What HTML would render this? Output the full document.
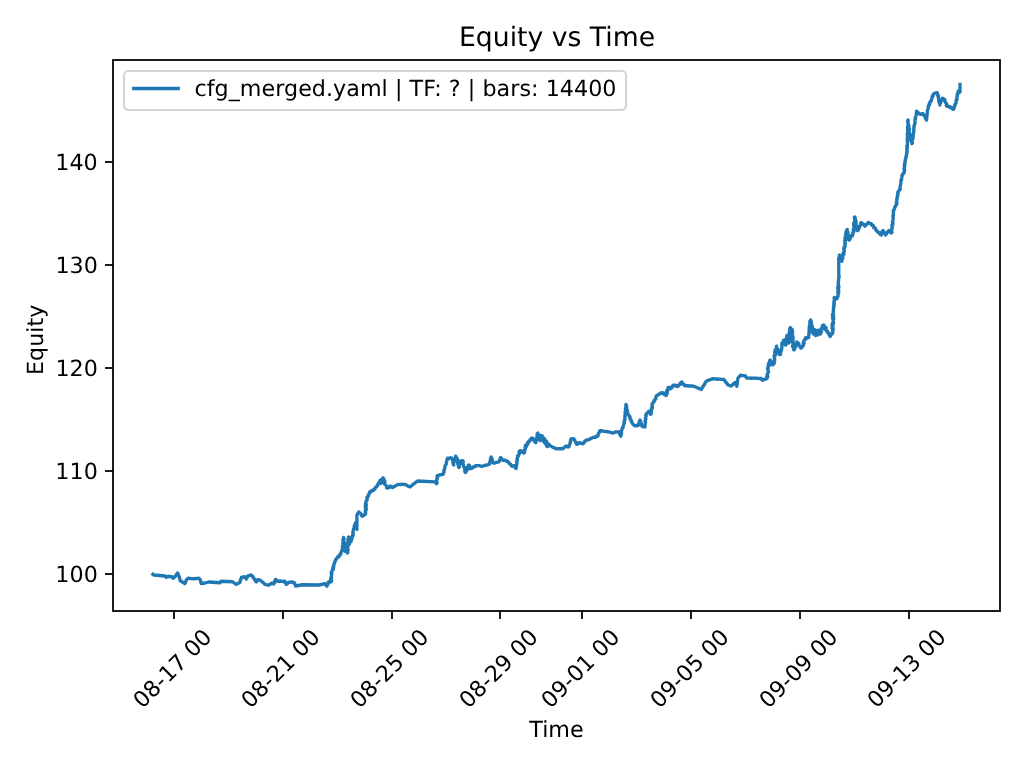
<!DOCTYPE html>
<html lang="en"><head><meta charset="utf-8"><title>Equity vs Time</title>
<style>
html,body{margin:0;padding:0;background:#fff;}
body{width:1024px;height:768px;overflow:hidden;}
svg{display:block;}
text{font-family:"DejaVu Sans","Liberation Sans",sans-serif;fill:#000;text-rendering:geometricPrecision;}
.t10{font-size:22.222px;}
.t12{font-size:26.667px;}
.ax{stroke:#000;stroke-width:1.778;fill:none;stroke-linecap:square;}
.tk{stroke:#000;stroke-width:1.778;fill:none;}
.ln{stroke:#1f77b4;stroke-width:3.333;fill:none;stroke-linejoin:round;stroke-linecap:square;}
</style></head><body>
<svg width="1024" height="768" viewBox="0 0 1024 768">
<rect x="0" y="0" width="1024" height="768" fill="#fff"/>

<g id="xticks">
<line class="tk" x1="174" y1="611" x2="174" y2="619"/>
<text id="xt0" class="t10" transform="translate(142.48 709.13) rotate(-45)">08-17 00</text>
<line class="tk" x1="283" y1="611" x2="283" y2="619"/>
<text id="xt1" class="t10" transform="translate(250.53 709.26) rotate(-45)">08-21 00</text>
<line class="tk" x1="392" y1="611" x2="392" y2="619"/>
<text id="xt2" class="t10" transform="translate(359.48 709.16) rotate(-45)">08-25 00</text>
<line class="tk" x1="500" y1="611" x2="500" y2="619"/>
<text id="xt3" class="t10" transform="translate(468.52 709.20) rotate(-45)">08-29 00</text>
<line class="tk" x1="582" y1="611" x2="582" y2="619"/>
<text id="xt4" class="t10" transform="translate(550.43 709.23) rotate(-45)">09-01 00</text>
<line class="tk" x1="691" y1="611" x2="691" y2="619"/>
<text id="xt5" class="t10" transform="translate(659.50 709.23) rotate(-45)">09-05 00</text>
<line class="tk" x1="800" y1="611" x2="800" y2="619"/>
<text id="xt6" class="t10" transform="translate(768.48 709.22) rotate(-45)">09-09 00</text>
<line class="tk" x1="909" y1="611" x2="909" y2="619"/>
<text id="xt7" class="t10" transform="translate(876.54 709.11) rotate(-45)">09-13 00</text>
</g>
<g id="yticks">
<line class="tk" x1="105" y1="574" x2="113" y2="574"/>
<text id="y100" class="t10" text-anchor="end" x="97.79" y="582.00">100</text>
<line class="tk" x1="105" y1="471" x2="113" y2="471"/>
<text id="y110" class="t10" text-anchor="end" x="97.79" y="479.00">110</text>
<line class="tk" x1="105" y1="368" x2="113" y2="368"/>
<text id="y120" class="t10" text-anchor="end" x="97.83" y="376.00">120</text>
<line class="tk" x1="105" y1="265" x2="113" y2="265"/>
<text id="y130" class="t10" text-anchor="end" x="97.81" y="273.00">130</text>
<line class="tk" x1="105" y1="162" x2="113" y2="162"/>
<text id="y140" class="t10" text-anchor="end" x="97.78" y="170.00">140</text>
</g>
<text id="time" class="t10" text-anchor="middle" x="556.52" y="737.00">Time</text>
<text id="equity" class="t10" text-anchor="middle" transform="translate(42.89 339.82) rotate(-90)">Equity</text>
<text id="title" class="t12" text-anchor="middle" x="557.04" y="46.00">Equity vs Time</text>
<clipPath id="c"><rect x="113" y="60" width="887" height="551"/></clipPath>
<polyline class="ln" clip-path="url(#c)" points="152.90,574.25 154.00,575.00 165.00,576.00 165.60,576.35 165.71,577.10 166.25,577.50 166.85,577.05 167.55,576.77 168.10,576.25 168.83,576.62 169.62,576.47 170.38,576.55 171.17,576.41 171.90,576.75 172.40,577.17 172.70,577.75 173.10,578.25 173.67,577.87 174.21,577.48 174.56,576.85 174.94,576.27 175.60,576.00 175.88,575.34 176.55,574.92 176.60,574.11 177.10,573.59 177.50,573.00 177.58,573.71 178.34,574.08 178.35,574.83 178.47,575.51 179.00,576.00 179.32,576.64 179.33,577.36 179.31,578.09 179.91,578.66 179.88,579.40 179.94,580.11 180.25,580.75 180.77,581.18 181.40,581.43 182.05,581.66 182.53,582.15 183.10,582.50 183.69,582.86 184.21,583.32 184.75,583.75 184.97,583.05 185.51,582.49 185.76,581.81 185.82,581.04 186.25,580.43 186.50,579.75 186.95,579.16 187.55,578.73 188.10,578.25 188.81,578.23 189.50,578.46 190.23,578.37 190.93,578.48 191.62,578.68 192.34,578.58 193.02,578.91 193.75,578.75 194.45,578.50 195.19,578.74 195.89,578.49 196.60,578.42 197.33,578.47 198.04,578.33 198.75,578.25 199.28,578.72 199.95,579.05 200.25,579.75 201.25,583.50 205.00,583.00 208.75,582.00 220.00,582.75 221.00,581.25 232.50,581.75 236.25,584.50 236.75,583.89 237.57,583.76 238.13,583.26 238.81,582.92 239.52,582.63 240.00,582.00 240.31,581.35 240.19,580.57 240.54,579.93 240.91,579.30 240.93,578.56 241.53,578.01 241.50,577.25 242.27,577.37 242.98,577.19 243.67,576.86 244.40,576.75 244.71,577.46 245.49,577.80 245.87,578.45 246.25,579.10 246.54,578.38 247.00,577.73 247.18,576.96 247.50,576.25 248.19,575.81 248.97,575.67 249.72,575.41 250.46,575.14 251.25,575.00 251.89,575.46 252.29,576.13 252.77,576.72 253.13,577.42 253.75,577.90 253.97,578.57 254.45,579.08 254.84,579.65 255.05,580.32 255.35,580.94 255.81,581.47 256.25,582.00 256.85,581.48 257.37,580.90 257.43,579.97 258.10,579.50 258.65,579.92 259.39,579.83 259.98,580.16 260.60,580.40 261.04,581.02 261.62,581.49 262.38,581.75 262.74,582.47 263.51,582.72 263.95,583.34 264.33,584.03 265.00,584.40 265.76,584.47 266.49,584.71 267.22,584.92 267.96,585.10 268.75,585.00 269.46,584.85 269.84,584.06 270.60,584.00 271.24,583.71 271.73,583.14 272.50,583.10 273.11,583.57 273.75,584.00 274.08,583.37 274.49,582.77 274.83,582.14 274.57,581.27 274.90,580.64 275.44,580.10 275.60,579.40 276.25,579.68 276.68,580.19 276.99,580.83 277.50,581.25 278.25,581.02 279.00,581.45 279.75,581.50 280.50,580.92 281.25,581.27 282.00,581.46 282.75,581.58 283.50,581.09 284.25,581.02 285.00,581.25 285.00,581.98 285.23,582.62 285.95,583.06 286.04,583.75 286.25,584.40 286.85,584.09 287.41,583.72 287.60,582.93 288.33,582.77 288.75,582.25 289.46,582.47 290.18,582.28 290.89,582.02 291.61,581.92 292.32,582.10 293.04,582.47 293.75,582.25 294.34,582.73 294.68,583.35 294.76,584.08 295.26,584.61 295.51,585.27 295.60,586.00 302.50,584.75 318.75,585.00 325.00,583.75 326.90,586.25 326.72,585.32 327.54,584.81 328.03,584.16 328.06,583.32 328.07,582.46 328.75,581.90 329.50,581.71 330.25,582.00 331.00,581.90 331.52,581.17 331.60,580.44 330.78,579.67 330.54,578.92 331.48,578.21 331.61,577.47 331.11,576.71 331.49,575.98 331.61,575.24 331.35,574.49 331.25,573.75 331.91,573.18 331.28,572.14 331.80,571.52 332.07,570.81 332.17,570.03 333.27,569.62 333.10,568.75 332.78,567.87 333.67,567.30 333.20,566.38 333.71,565.71 333.96,564.98 333.89,564.16 334.45,563.51 334.66,562.76 334.61,561.95 335.00,561.25 335.64,560.77 335.52,559.79 335.96,559.18 336.53,558.66 336.97,558.05 337.50,557.50 337.78,556.75 338.86,556.80 339.31,556.21 339.26,555.12 339.98,554.81 340.60,554.40 340.55,553.60 341.02,552.97 341.08,552.20 341.55,551.58 342.24,551.02 341.90,550.12 342.42,549.51 342.50,548.75 342.67,548.01 342.91,547.27 342.21,546.46 343.04,545.77 343.33,545.04 343.02,544.26 342.73,543.48 343.23,542.77 343.34,542.02 343.34,541.27 342.84,540.46 343.83,539.80 343.87,539.05 343.35,538.24 343.50,537.50 343.48,538.28 344.18,538.97 343.21,539.85 343.48,540.59 343.76,541.34 343.71,542.12 344.43,542.81 344.38,543.59 344.53,544.34 344.23,545.15 344.87,545.85 344.06,546.71 344.63,547.43 344.73,548.19 345.19,548.91 344.63,549.74 344.56,550.52 345.00,551.25 345.30,550.50 345.03,549.63 345.78,548.97 345.24,548.05 346.14,547.42 346.03,546.58 345.86,545.73 346.25,545.00 346.35,545.74 346.33,546.49 346.86,547.17 346.32,548.00 346.91,548.67 346.50,549.49 346.67,550.21 347.60,550.82 347.11,551.65 347.60,552.33 347.50,553.10 347.83,552.35 347.64,551.56 347.60,550.78 348.13,550.04 347.24,549.21 347.85,548.48 347.64,547.69 347.36,546.90 348.21,546.17 348.05,545.39 348.46,544.64 348.18,543.85 347.94,543.06 348.71,542.33 347.78,541.50 347.76,540.73 348.57,540.00 348.21,539.21 348.25,538.43 348.87,537.70 348.50,536.90 348.83,537.63 348.35,538.50 348.76,539.21 349.24,539.91 349.68,540.62 349.61,541.42 348.96,542.32 349.72,542.97 349.75,543.75 349.67,542.87 350.09,542.17 351.00,541.65 350.50,540.62 351.42,540.11 351.02,539.11 352.16,538.68 351.98,537.76 351.74,536.82 352.50,536.25 353.13,535.62 352.66,534.76 353.23,534.12 353.16,533.34 352.85,532.51 353.02,531.78 353.22,531.06 353.40,530.34 353.44,529.58 353.59,528.85 354.73,528.34 354.40,527.50 354.13,526.68 354.75,526.07 354.50,525.26 354.78,524.57 355.54,524.00 355.91,523.33 355.60,522.50 355.78,523.26 356.43,523.93 355.48,524.90 356.68,525.47 356.44,526.31 356.42,527.11 356.18,527.95 356.40,528.70 356.90,529.40 356.90,515.00 357.38,514.44 357.54,513.70 358.33,513.33 358.73,512.73 358.75,511.90 358.90,512.72 359.50,513.15 360.50,513.24 360.80,513.93 361.11,514.61 361.56,515.17 361.75,515.95 362.50,516.25 362.94,515.52 363.86,515.39 364.27,514.64 365.17,514.49 365.60,513.75 365.29,512.99 365.63,512.25 365.24,511.48 365.38,510.74 366.22,510.02 365.55,509.24 366.23,508.52 365.84,507.75 365.32,506.98 366.19,506.26 365.39,505.48 366.29,504.76 365.40,503.98 366.17,503.26 366.00,502.50 365.87,501.72 366.23,501.06 366.99,500.51 366.74,499.70 367.09,499.04 367.35,498.36 366.94,497.50 367.50,496.90 368.14,496.43 368.54,495.84 368.24,494.85 368.92,494.41 369.04,493.66 369.77,493.25 369.51,492.28 370.27,491.88 370.60,491.25 371.34,491.27 371.94,490.96 372.35,490.14 373.24,490.55 373.75,490.00 374.02,489.22 374.93,488.93 375.16,488.12 375.37,487.30 376.29,487.01 376.82,486.43 377.20,485.74 377.88,485.27 377.80,484.23 378.25,483.59 378.65,482.92 379.40,482.50 379.73,481.90 379.82,481.19 380.04,480.54 380.50,480.00 380.66,480.69 381.01,481.36 381.49,482.00 380.94,482.79 381.00,483.50 380.86,482.68 381.26,481.98 382.09,481.38 381.23,480.40 382.02,479.79 382.00,479.00 381.92,479.73 382.54,480.35 382.40,481.09 381.83,481.91 382.60,482.50 382.46,481.69 383.06,480.96 383.32,480.20 382.74,479.35 383.70,478.66 383.10,477.80 383.06,478.61 383.37,479.37 383.20,480.20 383.74,480.92 383.47,481.77 383.90,482.50 383.76,481.76 384.81,481.31 384.40,480.50 384.44,481.18 384.96,481.78 384.79,482.49 384.25,483.25 384.47,483.90 385.00,484.50 385.61,484.98 386.20,485.50 386.71,486.06 387.00,486.72 386.57,487.75 387.50,488.10 387.80,487.20 389.07,487.61 389.67,487.11 390.00,486.25 390.80,486.22 391.34,486.69 391.83,487.27 392.50,487.50 398.10,484.40 398.87,484.53 399.63,484.59 400.40,484.61 401.17,484.31 401.93,484.27 402.70,484.39 403.47,484.42 404.23,484.47 405.00,484.40 405.79,484.61 406.40,485.17 407.06,485.63 407.78,485.98 408.49,486.35 409.21,486.70 410.00,486.90 417.50,481.00 435.00,481.90 436.50,483.75 436.95,483.04 436.26,482.23 437.05,481.56 436.58,480.77 436.69,480.03 436.87,479.30 437.36,478.60 437.13,477.83 436.99,477.07 437.08,476.33 437.25,475.60 438.05,475.78 438.77,475.57 439.38,474.85 440.13,474.79 440.88,474.74 441.59,474.47 442.38,474.60 443.10,474.40 443.07,473.62 443.55,472.97 444.03,472.32 444.15,471.58 443.74,470.70 444.02,470.00 444.38,469.32 444.76,468.65 444.74,467.87 444.82,467.12 445.09,466.41 445.17,465.66 445.60,465.00 446.20,464.34 446.24,463.53 446.14,462.67 446.66,461.99 446.68,461.17 446.90,460.41 446.93,459.59 447.28,458.86 447.50,458.10 448.23,458.64 448.97,458.42 449.70,458.47 450.43,457.68 451.17,458.10 451.90,458.10 452.25,458.83 452.76,459.51 452.63,460.37 453.18,461.04 453.22,461.86 452.81,462.79 453.14,463.52 453.33,464.29 453.75,465.00 453.44,464.17 453.69,463.46 453.69,462.70 453.93,461.99 454.08,461.26 455.18,460.73 455.26,459.99 454.66,459.10 454.87,458.38 455.80,457.82 455.52,457.00 455.60,456.25 456.11,456.80 456.39,457.49 456.96,458.01 457.04,458.82 457.50,459.40 457.36,460.17 457.71,460.88 457.49,461.66 458.38,462.28 457.95,463.10 457.64,463.90 458.68,464.49 458.41,465.29 458.38,466.05 458.82,466.74 458.75,467.50 459.42,466.82 459.05,465.93 459.20,465.15 459.82,464.46 459.00,463.49 460.09,462.89 459.44,461.95 460.00,461.25 460.59,460.96 461.25,460.91 461.87,460.74 462.50,460.60 463.19,461.21 463.09,462.04 463.24,462.79 462.78,463.70 463.02,464.44 463.57,465.09 463.39,465.93 463.66,466.65 464.38,467.26 464.85,467.93 464.52,468.81 465.02,469.48 465.55,470.13 464.69,471.15 464.90,471.89 465.60,472.50 465.92,471.83 466.29,471.19 466.63,470.53 467.19,469.96 467.00,469.08 467.40,468.45 467.32,467.61 467.62,466.93 468.20,466.37 468.18,465.56 468.75,465.00 469.53,465.39 469.50,466.18 469.42,467.00 470.21,467.39 469.93,468.30 470.60,468.75 471.28,468.50 471.90,468.12 472.59,467.89 472.99,467.14 473.65,466.84 474.48,466.85 475.11,466.50 475.51,465.74 476.25,465.60 477.02,465.83 477.84,465.49 478.61,465.64 479.40,465.71 480.17,465.89 480.94,466.03 481.69,466.40 482.50,466.25 483.26,466.01 483.98,465.64 484.77,465.51 485.50,465.16 486.26,464.97 487.09,464.98 487.87,464.82 488.60,464.47 489.40,464.40 489.50,463.63 489.50,462.83 490.06,462.18 490.07,461.38 490.09,460.59 490.51,459.90 490.50,459.10 490.74,458.37 490.81,457.59 491.25,456.90 491.27,457.65 491.81,458.23 491.56,459.06 492.14,459.64 492.51,460.28 492.35,461.07 492.53,461.77 492.64,462.49 493.10,463.10 493.75,462.70 494.55,463.00 495.27,462.90 495.90,462.37 496.62,462.32 497.35,462.28 498.01,461.88 498.75,461.90 499.30,461.27 499.50,460.49 499.91,459.80 499.95,458.95 500.30,458.24 500.60,457.50 501.25,458.00 501.65,458.67 501.90,459.47 502.50,460.00 503.14,460.49 503.99,460.12 504.72,460.23 505.43,460.42 506.08,460.85 506.74,461.27 507.50,461.25 508.13,461.68 508.49,462.35 508.96,462.92 509.28,463.63 510.12,463.87 510.69,464.36 510.92,465.14 511.49,465.63 511.90,466.25 512.49,465.95 513.20,466.11 513.81,465.89 514.40,465.60 514.98,466.04 515.01,466.78 515.18,467.44 515.43,468.06 516.00,468.50 515.76,467.67 516.43,466.96 516.00,466.10 516.55,465.37 516.60,464.58 516.96,463.83 516.84,463.01 516.56,462.17 517.08,461.44 516.90,460.62 517.41,459.89 516.96,459.03 517.27,458.27 517.50,457.50 517.98,456.89 517.55,455.96 518.44,455.50 518.76,454.83 519.06,454.16 519.49,453.54 519.14,452.63 519.03,451.81 519.43,451.18 520.00,450.60 520.71,450.89 521.60,450.91 521.71,452.09 522.84,451.76 523.47,452.17 523.75,453.10 524.56,452.54 524.61,451.75 524.10,450.79 524.45,450.09 525.32,449.55 525.27,448.73 525.03,447.85 525.50,447.19 526.27,446.62 525.35,445.53 526.25,445.00 527.25,444.86 527.26,443.91 527.32,442.99 528.46,442.97 528.15,441.75 528.98,441.47 529.63,441.04 529.74,440.18 530.90,440.17 531.17,439.42 531.06,438.38 531.90,438.10 532.77,438.32 533.37,438.78 533.36,439.82 534.27,440.00 534.42,440.89 534.65,441.70 535.10,442.31 536.00,442.50 535.62,441.62 536.06,440.89 536.32,440.13 536.42,439.34 536.62,438.56 536.82,437.79 537.37,437.08 536.90,436.18 537.10,435.41 537.31,434.64 537.12,433.79 537.75,433.10 537.68,433.84 538.10,434.50 537.49,435.32 537.73,436.01 538.65,436.60 538.74,437.31 538.10,438.14 538.51,438.80 538.70,439.50 538.14,438.67 539.11,438.10 538.90,437.33 539.56,436.70 539.62,435.97 539.40,435.20 538.90,436.02 539.29,436.75 539.08,437.54 540.04,438.19 540.05,438.96 540.53,439.67 540.00,440.50 540.66,439.95 539.84,439.05 540.54,438.50 540.64,437.82 541.21,437.24 540.79,436.44 541.10,435.80 542.02,435.70 542.50,436.50 542.78,437.26 543.36,437.97 543.12,438.81 542.79,439.66 543.70,440.33 543.20,441.20 544.10,440.67 543.75,439.72 543.68,438.86 544.20,438.20 543.88,439.04 544.98,439.62 544.87,440.43 544.17,441.34 545.27,441.92 544.74,442.80 545.20,443.50 544.91,442.66 545.74,442.27 546.16,441.71 546.20,441.00 546.76,441.59 546.76,442.32 546.62,443.08 546.73,443.78 547.48,444.33 547.30,445.10 546.66,445.97 547.50,446.50 547.55,445.77 548.42,445.41 547.94,444.46 548.60,444.00 549.11,444.50 549.51,445.08 550.00,445.60 550.67,446.00 551.33,446.41 552.01,446.80 552.73,447.10 553.39,447.50 554.07,447.89 554.90,447.96 555.47,448.56 556.25,448.75 557.00,448.76 557.75,448.62 558.50,448.57 559.25,448.90 560.00,448.75 560.77,448.85 561.55,448.45 562.33,448.81 563.10,448.75 563.37,448.02 564.05,447.70 564.64,447.29 565.17,446.82 565.60,446.25 566.28,446.15 566.92,446.20 567.48,446.69 568.07,446.99 568.75,446.90 569.18,446.22 569.11,445.39 569.48,444.69 569.81,443.98 570.14,443.27 570.11,442.45 570.59,441.79 570.45,440.94 570.61,440.17 570.88,439.45 571.25,438.75 571.88,438.91 572.50,439.02 573.12,438.73 573.75,438.75 573.98,439.44 574.67,439.88 574.80,440.64 575.19,441.24 575.54,441.87 576.04,442.41 576.12,443.19 576.44,443.83 576.90,444.40 577.58,444.00 578.25,443.59 578.76,442.95 579.40,442.50 580.06,442.98 580.86,443.05 581.53,443.50 582.38,443.44 583.10,443.75 583.63,443.31 583.77,442.57 584.12,441.99 585.00,441.84 585.11,441.07 585.60,440.60 586.21,440.00 587.10,440.06 587.92,439.95 588.61,439.54 589.40,439.37 590.00,438.75 590.85,438.79 591.49,438.22 592.19,437.82 592.90,437.46 593.70,437.35 594.53,437.34 595.34,437.27 595.89,436.42 596.82,436.71 597.50,436.25 597.98,435.62 598.25,434.89 598.20,434.03 598.46,433.30 599.21,432.79 599.47,432.05 599.60,431.27 600.00,430.60 600.74,430.64 601.49,430.62 602.16,431.13 602.90,431.17 603.62,431.34 604.36,431.38 605.11,431.34 605.81,431.61 606.58,431.45 607.28,431.75 608.04,431.68 608.75,431.90 609.47,432.03 610.14,432.39 610.90,432.38 611.57,432.75 612.31,432.80 613.06,432.84 613.75,433.10 614.31,432.62 614.87,432.13 615.60,431.90 616.36,431.93 617.12,432.04 617.88,431.78 618.64,431.89 619.40,431.90 619.20,432.78 620.00,433.32 619.74,434.22 620.10,434.90 620.65,435.52 620.90,436.25 621.16,435.49 620.73,434.62 621.29,433.91 621.65,433.17 621.26,432.30 621.22,431.49 621.32,430.71 621.90,430.00 621.85,429.17 622.19,428.48 622.97,427.96 622.92,427.13 623.25,426.44 623.31,425.65 623.75,425.00 623.68,424.22 624.05,423.51 624.36,422.79 623.94,421.95 624.31,421.24 624.64,420.52 625.07,419.82 624.53,418.96 624.77,418.23 625.00,417.50 625.13,416.73 624.77,415.93 625.29,415.20 625.70,414.45 625.07,413.63 625.33,412.88 625.04,412.08 625.49,411.34 625.99,410.60 625.63,409.80 625.37,409.00 625.52,408.24 625.89,407.49 626.17,406.74 625.84,405.94 625.93,405.17 626.00,404.40 625.83,405.23 626.63,405.90 625.94,406.81 626.53,407.51 626.79,408.27 626.48,409.12 627.11,409.82 627.34,410.58 627.36,411.37 627.08,412.22 627.76,412.91 627.50,413.75 628.01,414.35 628.66,414.84 628.89,415.65 629.40,416.25 630.01,416.81 629.71,417.74 629.85,418.49 630.68,418.96 630.92,419.67 630.98,420.45 631.13,421.20 632.02,421.64 631.90,422.50 632.27,423.23 632.66,423.93 633.18,424.54 633.95,424.94 634.40,425.60 635.14,425.92 635.88,425.65 636.62,425.29 637.36,425.39 638.10,425.60 638.42,424.93 638.62,424.22 639.09,423.60 639.25,422.87 639.02,422.01 639.43,421.37 640.02,420.79 640.00,420.00 640.25,420.68 640.68,421.31 640.22,422.21 640.89,422.76 641.23,423.42 641.26,424.17 641.66,424.80 641.90,425.49 641.90,426.25 642.64,426.57 643.39,426.86 644.24,426.65 645.00,426.90 644.73,426.09 645.10,425.34 645.09,424.55 645.19,423.77 645.06,422.97 645.64,422.23 645.15,421.41 645.05,420.61 645.76,419.88 645.86,419.11 645.43,418.29 645.43,417.50 645.89,416.75 646.28,416.00 645.70,415.16 646.00,414.40 646.49,413.90 646.74,413.20 647.55,412.98 647.81,412.28 648.20,411.70 648.75,411.25 648.99,411.96 649.46,412.53 650.11,412.99 650.30,413.73 650.60,414.40 651.24,413.73 651.20,412.94 651.02,412.12 651.32,411.39 650.88,410.53 651.32,409.82 651.99,409.15 651.34,408.25 652.35,407.65 652.34,406.86 652.30,406.07 652.09,405.25 651.91,404.43 652.50,403.75 652.66,403.01 653.45,402.64 653.50,401.84 654.22,401.43 654.01,400.48 654.96,400.20 655.00,399.40 655.71,398.97 655.93,398.27 655.78,397.35 656.16,396.73 656.36,396.02 656.71,395.38 657.50,395.00 658.26,394.88 658.75,394.28 659.53,394.18 659.89,393.36 660.56,393.06 661.49,393.24 661.90,392.50 662.20,393.40 663.40,393.02 663.58,394.08 664.35,394.32 665.33,394.26 665.55,395.26 666.25,395.60 666.18,394.81 666.42,394.09 667.27,393.51 667.19,392.72 666.60,391.81 667.46,391.23 666.90,390.32 668.02,389.81 667.87,389.00 668.07,388.27 668.10,387.50 668.97,387.33 669.56,387.71 669.96,388.46 670.60,388.75 670.95,388.13 671.77,387.91 671.76,386.99 672.31,386.53 672.52,385.80 673.30,385.54 673.75,385.00 674.33,385.70 675.27,385.16 675.84,385.94 676.75,385.47 677.26,386.46 678.10,386.25 678.59,385.72 678.73,384.89 679.76,384.83 680.33,384.36 680.18,383.27 680.63,382.71 681.22,382.26 681.90,381.90 682.30,382.53 682.32,383.42 682.82,383.98 683.73,384.26 684.41,384.69 684.40,385.60 685.18,385.69 685.96,385.74 686.75,385.65 687.51,385.86 688.28,386.07 689.09,385.78 689.86,385.90 690.62,386.18 691.42,385.94 692.20,385.99 692.98,386.06 693.75,386.25 694.39,386.64 695.17,386.68 695.86,386.95 696.46,387.44 697.12,387.79 697.80,388.07 698.53,388.23 699.14,388.70 699.94,388.69 700.58,389.09 701.25,389.40 701.62,388.69 702.10,388.05 702.39,387.30 702.79,386.61 703.51,386.11 703.68,385.28 704.17,384.65 704.73,384.06 704.93,383.24 705.37,382.58 705.86,381.94 706.25,381.25 706.88,380.80 707.56,380.51 708.35,380.47 709.01,380.09 709.66,379.70 710.38,379.50 711.14,379.38 711.85,379.13 712.50,378.75 713.25,378.80 714.01,378.72 714.74,379.02 715.51,378.80 716.24,379.07 717.01,378.86 717.74,379.24 718.49,379.21 719.25,379.14 720.00,379.16 720.75,379.26 721.50,379.34 722.25,379.34 723.00,379.44 723.75,379.40 724.37,379.92 724.74,380.62 725.12,381.33 725.70,381.87 726.01,382.63 726.64,383.14 727.20,383.71 727.49,384.48 728.10,385.00 728.74,385.17 729.35,385.42 729.97,385.66 730.57,385.94 731.25,386.00 731.70,385.41 732.43,385.11 732.88,384.52 733.35,383.96 733.88,383.45 734.60,383.15 735.00,382.50 735.15,383.21 735.62,383.76 736.01,384.35 736.09,385.09 736.76,385.53 736.90,386.25 736.82,385.48 737.11,384.77 737.26,384.03 737.13,383.26 737.32,382.53 737.38,381.78 737.56,381.05 737.64,380.30 737.73,379.56 737.84,378.82 738.10,378.10 738.56,377.49 738.98,376.86 739.69,376.47 740.07,375.79 740.60,375.25 741.34,375.20 742.02,375.53 742.72,375.69 743.47,375.62 744.20,375.58 744.88,375.96 745.60,376.00 745.83,376.58 746.11,377.14 746.50,377.62 746.90,378.10 747.70,378.16 748.50,378.08 749.29,378.06 750.09,378.01 750.88,378.35 751.68,378.26 752.48,378.17 753.28,378.12 754.08,378.21 754.87,378.43 755.67,378.23 756.47,378.18 757.27,378.34 758.06,378.34 758.86,378.52 759.65,378.48 760.45,378.47 761.25,378.50 761.50,379.20 761.97,379.75 762.50,380.25 763.18,379.81 763.93,379.57 764.69,379.34 765.37,378.92 766.21,378.89 766.90,378.50 767.37,377.80 766.82,376.96 767.77,376.33 767.38,375.51 767.03,374.70 767.69,374.02 767.86,373.28 768.02,372.54 768.48,371.84 768.50,371.08 767.91,370.23 768.04,369.49 767.58,368.66 768.22,367.98 767.99,367.19 768.02,366.43 769.09,365.81 768.75,365.00 768.28,364.12 768.60,363.45 769.51,362.91 769.56,362.17 769.55,361.40 770.24,360.82 770.00,360.00 770.65,360.59 771.01,361.30 770.93,362.21 771.77,362.72 771.34,363.77 771.90,364.40 772.72,364.76 773.28,364.38 773.75,363.75 774.38,363.05 773.35,362.14 773.93,361.43 774.69,360.74 774.70,359.96 774.46,359.15 774.64,358.39 774.19,357.56 774.29,356.79 774.11,355.98 775.37,355.36 774.61,354.48 775.00,353.75 775.83,353.14 774.62,352.11 775.86,351.58 775.64,350.76 775.12,349.87 776.12,349.29 776.33,348.56 776.47,347.80 776.62,347.05 776.50,346.25 776.49,347.07 776.59,347.86 777.34,348.45 776.79,349.43 777.65,349.99 778.16,350.66 777.41,351.70 778.60,352.16 778.60,352.98 778.75,353.75 779.27,354.23 779.84,354.58 780.60,354.40 780.44,353.61 780.14,352.80 780.99,352.13 781.10,351.37 781.38,350.64 780.82,349.80 781.70,349.13 781.72,348.36 781.94,347.61 781.88,346.84 781.86,346.06 781.79,345.28 782.30,344.57 781.90,343.75 782.00,342.91 782.93,342.63 783.49,342.10 783.89,341.46 783.55,340.34 784.40,340.00 784.82,340.65 784.15,341.57 784.54,342.23 785.56,342.74 785.28,343.57 785.01,344.39 785.60,345.00 786.21,344.29 785.84,343.44 785.37,342.57 785.64,341.81 785.48,340.99 785.79,340.24 785.75,339.43 786.74,338.77 786.85,337.99 786.60,337.16 787.32,336.46 786.90,335.60 787.57,336.23 787.69,337.00 787.30,337.89 787.60,338.61 788.34,339.22 787.46,340.24 788.03,340.89 788.23,341.64 788.74,342.31 788.75,343.10 788.97,342.33 788.30,341.48 788.70,340.73 789.24,340.00 789.26,339.21 789.24,338.42 788.65,337.58 789.10,336.84 790.10,336.14 790.12,335.36 790.02,334.56 789.04,333.68 789.13,332.90 789.40,332.14 790.33,331.44 789.54,330.58 789.64,329.80 789.77,329.03 790.50,328.31 790.25,327.50 790.63,328.15 790.65,329.03 791.98,329.05 791.90,330.00 792.58,330.75 791.53,331.62 792.61,332.35 791.82,333.20 792.03,333.99 792.64,334.74 792.62,335.55 792.00,336.39 793.06,337.11 791.81,338.00 793.14,338.71 793.03,339.51 792.41,340.35 793.20,341.10 792.02,341.98 792.87,342.72 793.43,343.48 793.35,344.29 792.88,345.12 792.47,345.94 793.38,346.68 793.10,347.50 793.46,348.08 793.46,348.78 793.58,349.45 794.00,350.00 794.56,349.37 794.30,348.44 794.62,347.73 795.55,347.23 795.85,346.51 795.47,345.54 796.50,345.08 795.68,343.96 796.80,343.53 797.18,342.83 796.90,341.90 797.26,342.57 797.55,343.29 798.71,343.41 798.25,344.66 798.87,345.15 799.42,345.68 799.85,346.31 800.77,346.59 800.42,347.76 801.25,348.10 801.75,347.50 802.30,346.94 802.27,345.95 803.10,345.60 803.48,344.89 803.17,343.98 804.09,343.41 803.31,342.38 803.65,341.65 803.98,340.93 804.44,340.24 805.29,339.65 805.00,338.75 805.53,337.84 806.52,338.32 807.04,337.38 807.95,337.59 808.75,337.50 808.55,336.67 808.45,335.86 808.97,335.11 808.87,334.29 808.84,333.49 809.41,332.74 808.98,331.89 810.08,331.21 809.16,330.30 810.27,329.62 809.20,328.70 810.39,328.02 809.23,327.09 809.24,326.29 809.45,325.51 810.38,324.80 809.81,323.94 809.95,323.15 810.59,322.41 809.78,321.52 810.57,320.80 810.60,320.00 810.88,320.74 811.36,321.45 810.47,322.42 811.38,323.04 811.62,323.79 811.21,324.67 811.13,325.48 812.14,326.08 812.43,326.83 811.43,327.81 812.31,328.44 812.31,329.24 812.50,330.00 812.73,330.65 812.39,331.44 813.10,331.98 812.82,332.75 813.30,333.34 813.50,334.00 813.09,333.12 813.85,332.50 814.49,331.86 814.21,331.01 814.19,330.22 814.50,329.50 815.29,330.13 814.50,331.05 815.06,331.72 815.29,332.46 815.37,333.22 815.44,333.98 815.69,334.71 815.60,335.50 815.49,334.72 815.89,334.06 815.50,333.21 815.91,332.55 816.37,331.91 817.15,331.34 816.80,330.50 817.10,331.22 817.12,332.02 816.87,332.89 817.19,333.61 817.51,334.33 818.00,335.00 818.33,334.32 818.47,333.60 818.09,332.76 818.19,332.02 818.25,331.28 818.48,330.58 819.20,330.00 819.26,330.72 819.49,331.38 820.47,331.80 819.62,332.81 820.36,333.31 820.50,334.00 820.72,333.23 820.25,332.32 821.49,331.77 820.59,330.77 820.94,330.03 821.45,329.32 821.66,328.55 821.88,327.79 822.00,327.00 822.90,326.90 822.39,325.57 823.50,325.66 823.75,325.00 824.05,325.72 823.75,326.62 824.15,327.31 824.16,328.12 824.30,328.89 825.00,329.50 825.68,329.01 825.21,327.94 826.00,327.50 826.10,328.18 825.93,328.92 826.08,329.58 826.02,330.30 826.86,330.81 826.90,331.50 827.90,331.50 827.75,332.73 828.50,333.00 829.09,333.58 828.90,334.49 829.98,334.85 829.89,335.72 830.00,336.50 830.52,336.11 830.33,335.19 830.92,334.85 831.50,334.50 831.39,333.61 832.66,333.41 832.50,332.50 832.91,331.73 832.74,330.94 832.60,330.16 833.27,329.40 832.29,328.58 832.94,327.82 832.10,327.01 832.87,326.26 832.30,325.46 832.06,324.67 833.35,323.92 832.49,323.12 833.51,322.37 833.10,321.57 833.11,320.79 833.14,320.01 833.61,319.24 832.56,318.43 833.66,317.68 832.75,316.87 832.46,316.08 833.64,315.33 832.51,314.51 833.10,313.75 833.14,312.97 833.46,312.22 833.13,311.42 833.50,310.67 833.51,309.89 833.60,309.12 833.29,308.31 833.74,307.57 833.89,306.80 833.47,305.99 834.10,305.26 834.16,304.49 833.78,303.68 834.28,302.94 834.33,302.17 833.82,301.35 834.32,300.61 834.54,299.85 834.50,299.07 834.08,298.25 834.40,297.50 835.05,297.75 835.63,298.17 836.32,298.36 836.90,298.75 837.13,298.09 837.25,297.38 837.49,296.73 838.10,296.25 837.88,295.45 838.05,294.66 838.26,293.88 838.76,293.10 837.69,292.28 838.04,291.49 838.72,290.72 838.68,289.93 837.81,289.11 838.54,288.34 837.82,287.53 838.92,286.77 838.08,285.95 838.54,285.17 838.39,284.37 838.46,283.58 838.11,282.78 838.31,282.00 838.24,281.20 838.68,280.42 838.46,279.62 838.69,278.84 838.64,278.04 838.83,277.26 839.24,276.47 838.71,275.67 838.74,274.88 838.85,274.09 838.79,273.29 838.75,272.50 838.75,261.25 838.72,260.46 838.59,259.65 839.04,258.91 838.76,258.09 839.36,257.36 839.72,256.61 839.69,255.82 839.40,255.00 839.34,255.83 840.29,256.25 840.78,256.87 840.86,257.64 840.71,258.51 841.51,258.99 841.81,259.67 841.04,260.79 841.90,261.25 841.87,260.48 841.67,259.68 842.38,259.07 842.76,258.38 842.62,257.59 842.37,256.78 843.00,256.15 842.60,255.30 843.57,254.75 843.98,254.07 843.03,253.11 843.75,252.50 843.96,251.76 844.41,251.07 844.30,250.28 843.81,249.43 843.84,248.66 844.45,247.99 844.06,247.16 845.17,246.57 844.90,245.75 845.00,245.00 844.81,244.24 845.42,243.52 844.76,242.73 845.18,242.00 845.21,241.25 844.74,240.47 845.66,239.77 845.57,239.01 844.98,238.23 845.31,237.50 845.20,236.74 846.03,236.03 845.73,235.26 846.12,234.53 845.60,233.75 846.19,233.14 846.49,232.43 846.20,231.49 847.11,231.01 846.78,230.05 847.25,229.40 846.95,230.21 847.20,230.95 847.56,231.67 848.09,232.37 847.66,233.20 847.74,233.96 847.77,234.73 848.65,235.38 848.53,236.17 848.25,236.98 847.99,237.79 848.87,238.44 848.15,239.31 848.75,240.00 849.67,239.84 849.29,238.56 850.37,238.53 850.53,237.72 850.75,236.95 851.30,236.47 851.90,236.04 852.50,235.60 852.04,234.75 853.01,234.17 852.85,233.38 852.85,232.62 853.64,232.00 853.90,231.29 853.40,230.44 853.36,229.67 853.86,229.00 853.75,228.21 854.00,227.50 854.55,226.78 853.84,225.97 853.69,225.20 853.60,224.43 853.85,223.68 853.81,222.92 854.89,222.24 854.65,221.46 854.58,220.69 855.09,219.97 854.74,219.18 854.90,218.43 854.27,217.63 854.75,216.90 855.17,217.54 854.92,218.33 854.81,219.09 855.64,219.64 855.59,220.39 855.96,221.04 856.10,221.74 856.00,222.50 856.04,223.25 855.75,224.07 855.82,224.82 856.46,225.46 857.27,226.07 857.10,226.87 856.76,227.69 856.56,228.49 857.67,229.05 856.96,229.94 857.50,230.60 858.25,230.13 857.66,229.03 858.90,228.79 858.86,227.95 859.46,227.41 859.57,226.64 859.89,225.97 860.43,225.40 860.61,224.66 860.52,223.80 860.80,223.11 861.25,222.50 861.41,223.41 862.51,223.38 862.95,224.01 863.67,224.36 864.06,225.05 864.40,225.78 865.00,226.25 865.18,225.50 865.82,225.13 866.42,224.72 866.67,224.03 867.43,223.75 867.67,223.05 868.10,222.50 868.82,222.64 869.25,223.36 869.97,223.50 870.66,223.72 871.44,223.74 871.90,224.40 871.95,225.36 873.16,225.42 873.45,226.19 873.76,226.95 873.93,227.81 874.98,228.00 875.62,228.49 875.58,229.52 876.25,230.00 876.45,230.91 877.40,231.07 877.52,232.06 878.61,232.08 878.73,233.08 879.98,232.94 880.00,234.03 880.39,234.75 881.25,235.00 881.33,234.17 882.23,233.68 882.28,232.84 882.30,231.99 882.32,231.13 883.10,230.60 883.30,231.32 883.94,231.79 884.13,232.51 884.82,232.95 885.35,233.48 885.64,234.15 885.60,235.00 886.18,234.46 886.16,233.50 886.77,232.98 887.48,232.55 887.64,231.71 888.28,231.21 888.75,230.60 889.32,231.03 889.53,231.82 890.33,232.02 890.92,232.43 891.25,233.10 891.89,232.39 891.10,231.49 891.72,230.78 891.80,230.00 891.60,229.18 892.15,228.46 892.26,227.68 892.06,226.86 891.99,226.06 891.86,225.25 892.81,224.58 892.50,223.75 892.97,223.02 892.46,222.21 892.56,221.44 892.90,220.71 893.08,219.95 893.21,219.19 893.21,218.42 893.21,217.65 893.23,216.88 892.79,216.07 893.26,215.35 893.51,214.60 893.24,213.80 893.26,213.04 893.47,212.29 893.65,211.53 893.27,210.73 893.75,210.00 894.30,209.38 894.62,208.65 894.61,207.75 894.99,207.05 895.29,206.31 895.83,205.68 896.25,205.00 896.74,204.28 896.38,203.45 896.93,202.74 896.42,201.88 896.58,201.12 896.91,200.38 896.72,199.56 896.80,198.79 897.37,198.08 897.21,197.28 897.61,196.55 897.33,195.72 897.50,194.96 898.10,194.26 897.95,193.45 897.68,192.63 898.10,191.90 898.53,191.38 898.81,190.71 899.27,190.22 900.00,190.00 900.16,189.22 899.89,188.38 900.08,187.60 900.07,186.79 900.20,186.01 900.59,185.26 900.46,184.44 900.69,183.66 900.89,182.89 900.80,182.07 900.85,181.28 900.97,180.49 901.74,179.79 901.35,178.93 901.54,178.15 901.89,177.40 902.03,176.61 902.06,175.81 902.00,175.00 902.69,174.72 902.92,174.02 903.14,173.31 903.87,173.06 904.25,172.50 904.25,171.73 904.60,170.98 904.15,170.18 904.55,169.43 904.03,168.63 904.38,167.88 904.39,167.11 904.22,166.33 904.87,165.59 904.91,164.82 904.46,164.03 904.89,163.28 904.75,162.50 905.25,161.80 905.16,160.98 905.16,160.17 905.59,159.46 905.53,158.63 905.85,157.90 906.09,157.15 905.96,156.31 906.44,155.61 906.49,154.81 906.73,154.06 906.65,153.23 907.00,152.50 907.23,151.71 906.75,150.91 907.05,150.12 907.11,149.33 906.70,148.53 907.38,147.75 907.20,146.95 906.82,146.15 907.49,145.37 907.40,144.58 907.59,143.79 907.42,142.99 907.29,142.20 907.55,141.41 907.21,140.61 907.30,139.82 907.25,139.02 907.25,138.23 907.79,137.45 907.44,136.65 907.47,135.85 907.38,135.06 907.36,134.26 907.30,133.47 907.93,132.69 907.77,131.90 907.58,131.10 907.70,130.31 907.92,129.52 907.55,128.72 907.50,127.92 907.68,127.13 907.69,126.34 908.02,125.56 908.10,124.77 908.09,123.97 907.98,123.18 907.86,122.38 907.58,121.58 908.24,120.80 907.90,120.00 907.70,120.82 908.07,121.57 907.97,122.37 907.94,123.16 908.53,123.89 908.40,124.69 908.17,125.51 908.88,126.22 909.04,127.00 908.46,127.86 908.62,128.63 909.41,129.33 909.05,130.16 909.09,130.95 909.13,131.74 909.40,132.50 909.47,133.27 909.68,134.01 909.81,134.77 909.97,135.52 910.57,136.18 910.67,136.94 910.74,137.71 910.38,138.58 910.93,139.24 910.97,140.02 910.85,140.84 911.73,141.43 911.82,142.19 911.91,142.96 911.90,143.75 912.35,143.02 912.29,142.21 911.90,141.37 911.96,140.58 912.15,139.81 912.87,139.11 912.56,138.27 913.04,137.54 913.13,136.76 913.33,135.99 913.08,135.16 912.96,134.35 913.27,133.60 913.69,132.86 913.84,132.08 913.48,131.24 913.66,130.47 914.02,129.72 913.79,128.89 913.77,128.10 913.90,127.32 914.18,126.56 914.08,125.75 914.40,125.00 914.74,124.27 914.77,123.49 915.11,122.76 915.07,121.98 914.94,121.17 914.84,120.38 915.00,119.62 915.65,118.94 915.56,118.14 915.24,117.31 915.68,116.60 916.02,115.87 916.17,115.11 916.32,114.35 916.49,113.59 916.25,112.78 916.52,112.04 916.50,111.25 917.32,111.51 917.58,112.40 918.24,112.83 918.99,113.17 919.56,113.72 920.00,114.40 920.81,114.41 921.50,113.85 922.30,113.78 923.10,113.75 923.57,114.40 923.66,115.24 924.46,115.71 924.92,116.36 925.22,117.10 925.21,118.00 926.08,118.43 926.08,119.33 926.50,120.00 926.60,119.22 926.60,118.42 926.67,117.64 926.93,116.88 926.63,116.05 926.95,115.29 927.13,114.52 927.00,113.71 927.42,112.97 927.34,112.17 927.24,111.36 927.39,110.59 927.66,109.83 928.03,109.08 928.25,108.31 928.10,107.50 928.38,106.81 928.32,105.99 929.04,105.49 929.56,104.90 929.18,103.95 929.70,103.36 929.73,102.57 930.45,102.07 930.37,101.23 931.31,100.83 931.25,100.00 931.46,99.28 931.90,98.65 931.95,97.86 932.23,97.17 932.26,96.38 933.20,95.95 933.01,95.07 933.28,94.37 933.75,93.75 934.42,93.44 935.08,93.09 935.81,93.00 936.50,92.77 937.25,92.75 937.04,93.53 937.30,94.19 937.96,94.74 937.69,95.54 938.52,96.04 938.27,96.84 938.50,97.50 938.32,98.30 938.98,98.96 939.16,99.70 938.76,100.54 939.00,101.27 938.86,102.07 939.66,102.70 939.79,103.45 939.99,104.19 939.75,105.00 939.89,104.26 939.95,103.48 940.66,102.97 940.53,102.11 941.09,101.54 941.41,100.86 941.35,100.04 942.10,99.54 942.61,98.94 942.50,98.10 943.18,98.50 943.74,99.06 944.44,99.44 945.00,100.00 944.83,100.81 945.14,101.47 945.26,102.20 945.94,102.75 946.20,103.43 946.66,104.05 946.82,104.76 946.32,105.67 946.90,106.25 947.66,106.48 948.46,106.53 949.28,106.46 950.00,106.90 950.37,107.62 951.39,107.42 951.68,108.25 952.29,108.63 952.80,109.14 953.50,109.40 953.94,108.72 954.14,107.97 954.29,107.19 954.45,106.42 954.99,105.78 954.71,104.86 955.08,104.16 955.72,103.55 956.06,102.84 956.13,102.03 956.25,101.25 956.02,100.41 956.81,99.76 957.06,99.01 956.79,98.17 956.87,97.39 956.98,96.61 957.33,95.88 957.12,95.05 957.23,94.27 958.08,93.63 957.82,92.79 957.97,92.02 958.10,91.25 958.79,91.31 959.49,91.32 960.00,91.90 960.00,84.50"/>
<rect class="ax" x="113" y="60" width="887" height="551"/>
<rect x="124.0" y="71.0" width="502.00" height="39.00" rx="4.44" ry="4.44" fill="#fff" fill-opacity="0.8" stroke="#ccc" stroke-opacity="0.8" stroke-width="2.222"/>
<line x1="133.78" y1="88.49" x2="178.22" y2="88.49" stroke="#1f77b4" stroke-width="3.333" stroke-linecap="square"/>
<text id="legtext" class="t10" x="194.45" y="96.00" textLength="422.0" lengthAdjust="spacing">cfg_merged.yaml | TF: ? | bars: 14400</text>
</svg></body></html>
